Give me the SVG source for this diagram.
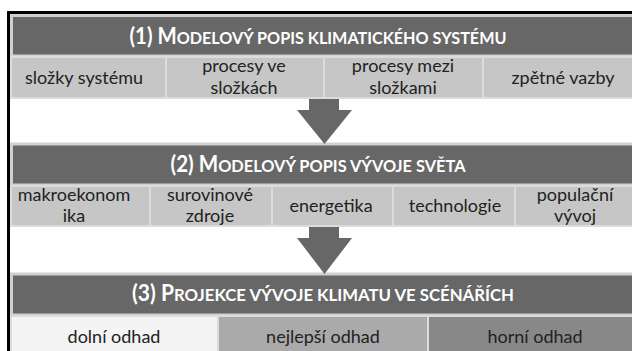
<svg xmlns="http://www.w3.org/2000/svg" width="632" height="351" viewBox="0 0 632 351">
<style>
.frame{fill:none;stroke:#000;stroke-width:3}
.hd{fill:#676767;stroke:#d0d0d0;stroke-width:3}
.cell{fill:#c6c6c6;stroke:#dcdcdc;stroke-width:2}
.ht{font-family:Lato,"Liberation Sans",sans-serif;font-weight:bold;fill:#fff;text-anchor:middle}
.ct{font-family:Lato,"Liberation Sans",sans-serif;font-size:18px;fill:#222;text-anchor:middle}
.arrow{fill:#676767}
</style>
<rect width="632" height="351" fill="#fff"/>
<rect class="frame" x="8.5" y="12.5" width="640" height="350"/>

<g id="model-klima">
<rect class="hd" x="11.5" y="15.5" width="630" height="40.5"/>
<text class="ht" x="318" y="43.5" textLength="377" lengthAdjust="spacingAndGlyphs"><tspan font-size="22">(1) M</tspan><tspan font-size="17.5">ODELOVÝ POPIS KLIMATICKÉHO SYSTÉMU</tspan></text>
</g>
<g id="slozky-systemu">
<rect class="cell" x="11" y="57" width="155" height="41"/>
<text class="ct" x="84" y="83.5">složky systému</text>
</g>
<g id="procesy-ve-slozkach">
<rect class="cell" x="166" y="57" width="158" height="41"/>
<text class="ct" x="244" y="72"><tspan x="244">procesy ve</tspan><tspan x="244" dy="21.7">složkách</tspan></text>
</g>
<g id="procesy-mezi-slozkami">
<rect class="cell" x="324" y="57" width="159" height="41"/>
<text class="ct" x="403" y="72"><tspan x="403">procesy mezi</tspan><tspan x="403" dy="21.7">složkami</tspan></text>
</g>
<g id="zpetne-vazby">
<rect class="cell" x="483" y="57" width="160" height="41"/>
<text class="ct" x="563" y="83.5">zpětné vazby</text>
</g>

<g id="model-svet">
<rect class="hd" x="11.5" y="144" width="630" height="41"/>
<text class="ht" x="318" y="171.5" textLength="295" lengthAdjust="spacingAndGlyphs"><tspan font-size="22">(2) M</tspan><tspan font-size="17.5">ODELOVÝ POPIS VÝVOJE SVĚTA</tspan></text>
</g>
<g id="makroekonomika">
<rect class="cell" x="11" y="186" width="139" height="40"/>
<text class="ct" x="74" y="200.5"><tspan x="74">makroekonom</tspan><tspan x="74" dy="21.7">ika</tspan></text>
</g>
<g id="surovinove-zdroje">
<rect class="cell" x="150" y="186" width="122" height="40"/>
<text class="ct" x="210" y="200.5"><tspan x="210">surovinové</tspan><tspan x="210" dy="21.7">zdroje</tspan></text>
</g>
<g id="energetika">
<rect class="cell" x="272" y="186" width="121" height="40"/>
<text class="ct" x="331" y="212">energetika</text>
</g>
<g id="technologie">
<rect class="cell" x="393" y="186" width="122" height="40"/>
<text class="ct" x="455" y="212">technologie</text>
</g>
<g id="populacni-vyvoj">
<rect class="cell" x="515" y="186" width="128" height="40"/>
<text class="ct" x="575" y="200.5"><tspan x="575">populační</tspan><tspan x="575" dy="21.7">vývoj</tspan></text>
</g>

<g id="projekce">
<rect class="hd" x="11.5" y="274" width="630" height="41"/>
<text class="ht" x="323" y="300.5" textLength="382" lengthAdjust="spacingAndGlyphs"><tspan font-size="22">(3) P</tspan><tspan font-size="17.5">ROJEKCE VÝVOJE KLIMATU VE SCÉNÁŘÍCH</tspan></text>
</g>
<g id="dolni-odhad">
<rect x="11" y="316" width="207" height="40" fill="#f4f4f4" stroke="#dcdcdc" stroke-width="2"/>
<text class="ct" x="114" y="342.5">dolní odhad</text>
</g>
<g id="nejlepsi-odhad">
<rect x="218" y="316" width="210" height="40" fill="#aaaaaa" stroke="#dcdcdc" stroke-width="2"/>
<text class="ct" x="323" y="342.5">nejlepší odhad</text>
</g>
<g id="horni-odhad">
<rect x="428" y="316" width="215" height="40" fill="#888888" stroke="#dcdcdc" stroke-width="2"/>
<text class="ct" x="535" y="342.5">horní odhad</text>
</g>

<g id="connectors">
<polygon class="arrow" points="309,99 339,99 339,110 352,110 324.5,144 297,110 309,110"/>
<polygon class="arrow" points="309,227 339,227 339,238 352,238 324.5,274 297,238 309,238"/>
</g>
</svg>
